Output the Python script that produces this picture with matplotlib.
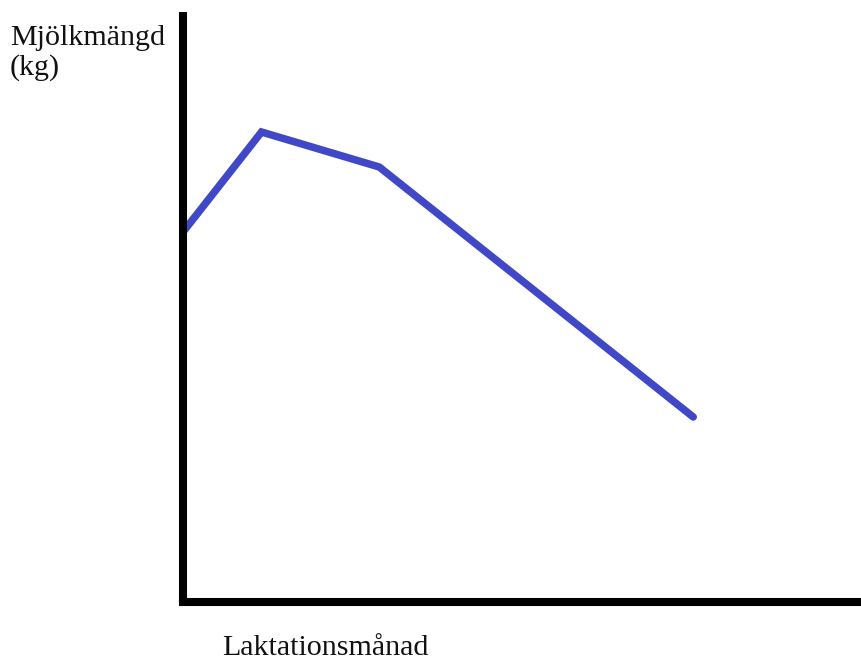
import matplotlib
matplotlib.use("Agg")
import matplotlib.pyplot as plt

# lactation curve (arbitrary units)
month = [0, 1, 2.5, 6.5]
milk_kg = [37, 47, 43.5, 18.5]

y_label = ["Mjölkmängd", "(kg)"]
x_label = "Laktationsmånad"

W, H = 862, 660
fig = plt.figure(figsize=(W / 100, H / 100), dpi=100)
ax = fig.add_axes([183 / W, 1 - 602 / H, (W - 183) / W, (602 - 12) / H])

ax.plot(month, milk_kg, color="#4048c8", lw=5.4, solid_capstyle="round",
        solid_joinstyle="miter", clip_on=False)

ax.set_xlim(0, 8.65)
ax.set_ylim(0, 59)
ax.set_xticks([])
ax.set_yticks([])
for side in ["top", "right"]:
    ax.spines[side].set_visible(False)
for side in ["left", "bottom"]:
    ax.spines[side].set_linewidth(5.8)
    ax.spines[side].set_color("black")
ax.spines["left"].set_capstyle("butt")
ax.spines["bottom"].set_capstyle("projecting")

font = dict(family="Liberation Serif", size=21.6, color="#111111", va="baseline")
fig.text(10 / W, 1 - 45 / H, y_label[0], ha="left", **font)
fig.text(10 / W, 1 - 75 / H, y_label[1], ha="left", **font)
fig.text(222 / W, 1 - 655 / H, x_label, ha="left", **font)

fig.savefig("out.png", dpi=100)
